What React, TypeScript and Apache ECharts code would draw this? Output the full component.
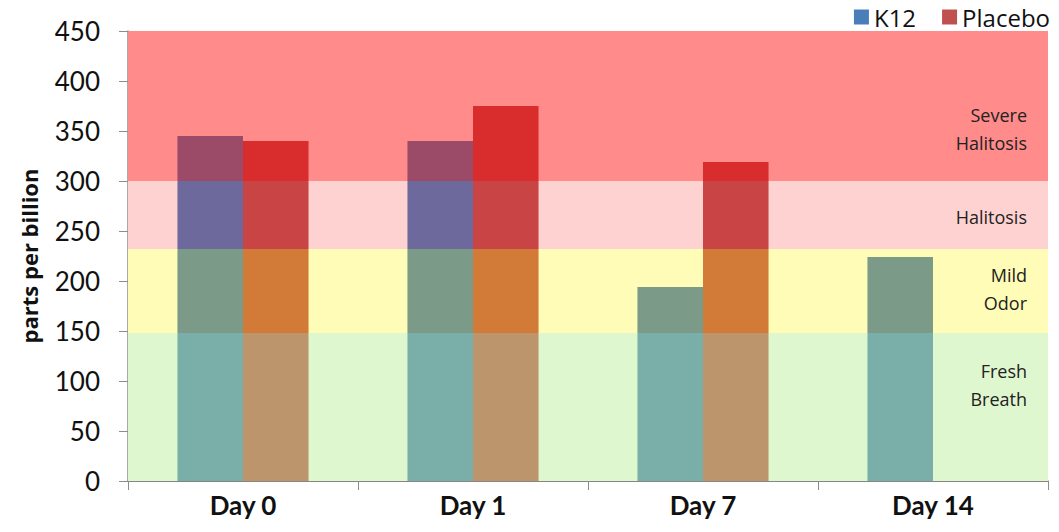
import React, { useEffect, useRef } from "react";
import * as echarts from "echarts";

const categories = ["Day 0", "Day 1", "Day 7", "Day 14"];
const k12Values = [345, 340, 194, 224];
const placeboValues: (number | null)[] = [340, 375, 319, null];
const yTicks = [0, 50, 100, 150, 200, 250, 300, 350, 400, 450];

// band edges (ppb) from bottom to top
const bandEdges = [0, 148, 232, 300, 450];
const bandNames = ["Fresh\nBreath", "Mild\nOdor", "Halitosis", "Severe\nHalitosis"];
const bandColors = ["#dff7cf", "#fefcb6", "#ffd2d2", "#ff8b8b"];
const bandLabelOffsets = [-22, -2, 2, 23];
const k12BandColors = ["#79aea9", "#7b9a87", "#6e699d", "#9b4a68"];
const placeboBandColors = ["#bd956d", "#d27b38", "#c94545", "#d92d2d"];

function bandGradient(v: number, colors: string[]) {
  const stops: { offset: number; color: string }[] = [];
  for (let i = bandEdges.length - 2; i >= 0; i--) {
    const lo = bandEdges[i];
    const hi = bandEdges[i + 1];
    if (lo >= v) continue;
    const start = (v - Math.min(v, hi)) / v;
    const end = (v - lo) / v;
    stops.push({ offset: start, color: colors[i] });
    stops.push({ offset: end, color: colors[i] });
  }
  return new echarts.graphic.LinearGradient(0, 0, 0, 1, stops);
}

export default function App() {
  const ref = useRef<HTMLDivElement>(null);
  useEffect(() => {
    if (!ref.current) return;
    const chart = echarts.init(ref.current, null, { renderer: "svg" });
    const font = "Lato, 'Open Sans', sans-serif";
    const wide = "'Open Sans', Lato, sans-serif";
    chart.setOption({
      animation: false,
      backgroundColor: "#ffffff",
      textStyle: { fontFamily: font },
      legend: {
        right: 4,
        top: 0,
        itemWidth: 15,
        itemHeight: 15,
        itemGap: 26,
        icon: "rect",
        textStyle: { fontSize: 24, color: "#111", fontFamily: wide },
        data: [
          { name: "K12", itemStyle: { color: "#4a7ebb" } },
          { name: "Placebo", itemStyle: { color: "#c0504d" } },
        ],
      },
      grid: { left: 128, right: 11, top: 31, bottom: 51 },
      xAxis: {
        type: "category",
        data: categories,
        axisLine: { lineStyle: { color: "#8c8c8c", width: 1.5 } },
        axisTick: { show: true, length: 9, lineStyle: { color: "#8c8c8c" } },
        axisLabel: { fontSize: 26, fontWeight: "bold", color: "#111", margin: 11, fontFamily: font },
      },
      yAxis: {
        type: "value",
        min: 0,
        max: 450,
        interval: 50,
        name: "parts per billion",
        nameLocation: "middle",
        nameGap: 88,
        nameTextStyle: { fontSize: 22, fontWeight: "bold", color: "#111", fontFamily: wide },
        axisLine: { show: true, lineStyle: { color: "#8c8c8c", width: 1.5 } },
        axisTick: { show: true, length: 9, lineStyle: { color: "#8c8c8c" } },
        axisLabel: {
          fontSize: 26,
          color: "#111",
          margin: 28,
          fontFamily: font,
          formatter: (v: number) => (yTicks.includes(v) ? String(v) : ""),
        },
        splitLine: { show: true, lineStyle: { color: "#7a6f6f", width: 1 } },
      },
      series: [
        {
          name: "K12",
          type: "bar",
          data: k12Values,
          barGap: "0%",
          barCategoryGap: "43%",
          z: 3,
          itemStyle: {
            color: (p: any) => bandGradient(p.value, k12BandColors),
          },
          markArea: {
            silent: true,
            z: 1,
            data: bandNames.map((n, i) => [
              {
                name: n,
                yAxis: bandEdges[i],
                itemStyle: { color: bandColors[i], opacity: 1 },
                label: {
                  show: true,
                  position: "insideRight",
                  offset: [-16, bandLabelOffsets[i]],
                  align: "right",
                  fontSize: 18,
                  lineHeight: 28,
                  color: "#222",
                  fontFamily: wide,
                },
              },
              { yAxis: bandEdges[i + 1] },
            ]),
          },
        },
        {
          name: "Placebo",
          type: "bar",
          data: placeboValues,
          z: 3,
          itemStyle: {
            color: (p: any) => bandGradient(p.value, placeboBandColors),
          },
        },
      ],
    });
    return () => chart.dispose();
  }, []);
  return <div ref={ref} style={{ width: 1059, height: 532, margin: -8 }} />;
}
